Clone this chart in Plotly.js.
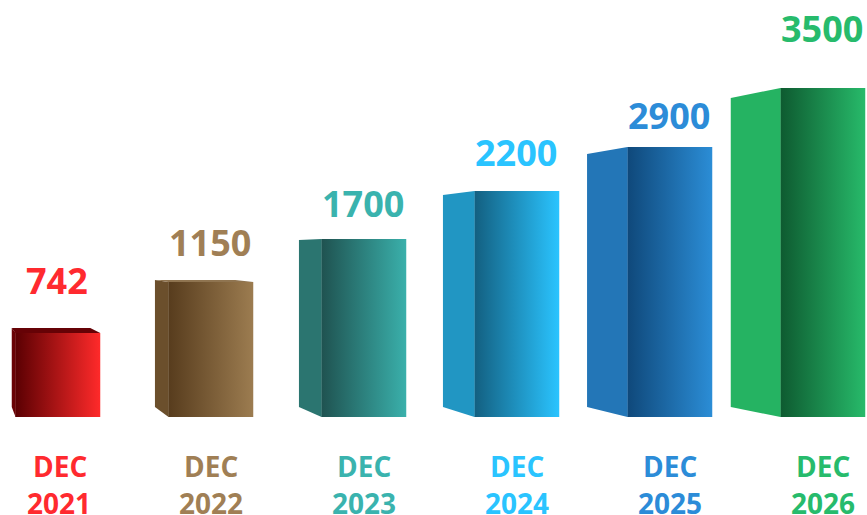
<!DOCTYPE html>
<html>
<head>
<meta charset="utf-8">
<script src="https://cdn.plot.ly/plotly-3.0.1.min.js"></script>
<style>html,body{margin:0;padding:0;background:#fff;overflow:hidden}</style>
</head>
<body>
<div id="chart" style="width:867px;height:515px"></div>
<script>
// ---- data ----
const months = ["DEC", "DEC", "DEC", "DEC", "DEC", "DEC"];
const years = ["2021", "2022", "2023", "2024", "2025", "2026"];
const labelValues = ["742", "1150", "1700", "2200", "2900", "3500"];
const drawnHeights = [84, 135, 178, 226, 270, 329];

// ---- styling ----
const darkShades = ["#5a0002", "#573c1d", "#1f5250", "#135f80", "#0f487a", "#0e5a30"];
const brightShades = ["#ff2a2a", "#9c7c50", "#3ab0ab", "#2ac4ff", "#2b8dd6", "#27ba6a"];
const sideColors = ["#6a0205", "#6b4f2c", "#2b7570", "#2196c3", "#2376b7", "#25b362"];
const topColors = ["#660206", "#8f7450", null, null, null, null];
const textColors = ["#ff2a2f", "#a07f55", "#3ab3ae", "#2ac4ff", "#2c8cd8", "#27bb6c"];
const sideDepth = [3.5, 13.3, 22.3, 31.3, 40.2, 49.5];
const backRise = [5, 2, -1, -4, -7, -10];
const topRightInset = [10, 18, 0, 0, 0, 0];
const labelLift = [53, 40, 36, 39, 32, 60];
const labelNudge = [-1, -1, -1, -1, -1, -1];

const pxPerIndex = 153, barPx = 85, floorRise = 10, originPx = 57.75, seamPx = 0.3;
const monthY = -49, yearY = -85.5;
const idx = years.map((_, i) => i);
const toIndex = px => px / pxPerIndex;

const traces = [{
  type: "bar",
  x: idx,
  y: drawnHeights,
  width: toIndex(barPx),
  marker: {color: brightShades, line: {width: 0}},
  hoverinfo: "skip"
}];

idx.forEach(i => {
  const left = i - toIndex(barPx) / 2;
  const seam = left + toIndex(seamPx);
  const back = left - toIndex(sideDepth[i]);
  const top = drawnHeights[i];
  traces.push({
    type: "scatter", mode: "lines", fill: "toself",
    fillcolor: sideColors[i], line: {width: 0},
    x: [seam, back, back, seam],
    y: [0, floorRise, top + backRise[i], top],
    hoverinfo: "skip"
  });
  if (topColors[i]) {
    const right = i + toIndex(barPx) / 2;
    traces.push({
      type: "scatter", mode: "lines", fill: "toself",
      fillcolor: topColors[i], line: {width: 0},
      x: [left, back, right - toIndex(topRightInset[i]), right],
      y: [top, top + backRise[i], top + backRise[i], top],
      hoverinfo: "skip"
    });
  }
});

const fontFamily = '"Open Sans", sans-serif';
const annotations = [];
idx.forEach(i => {
  annotations.push({
    x: i, xshift: labelNudge[i], y: drawnHeights[i] + labelLift[i],
    text: "<b>" + labelValues[i] + "</b>", showarrow: false, yanchor: "middle",
    font: {family: fontFamily, size: 36, color: textColors[i]}
  });
  annotations.push({
    x: i, xshift: i === 0 ? 2 : 0, y: monthY,
    text: "<b>" + months[i] + "</b>", showarrow: false, yanchor: "middle",
    font: {family: fontFamily, size: 28, color: textColors[i]}
  });
  annotations.push({
    x: i, xshift: i === 0 ? 1 : 0, y: yearY,
    text: "<b>" + years[i] + "</b>", showarrow: false, yanchor: "middle",
    font: {family: fontFamily, size: 28, color: textColors[i]}
  });
});

const layout = {
  width: 867, height: 515,
  margin: {l: 0, r: 0, t: 0, b: 0},
  paper_bgcolor: "#fff", plot_bgcolor: "#fff",
  showlegend: false,
  xaxis: {type: "linear", range: [toIndex(-originPx), toIndex(867 - originPx)], visible: false, fixedrange: true},
  yaxis: {range: [-98, 417], visible: false, fixedrange: true},
  annotations: annotations
};

function paintGradients() {
  const svg = document.querySelector("#chart svg.main-svg");
  const NS = "http://www.w3.org/2000/svg";
  let defs = svg.querySelector("defs#bar-grads");
  if (!defs) {
    defs = document.createElementNS(NS, "defs");
    defs.id = "bar-grads";
    idx.forEach(i => {
      const g = document.createElementNS(NS, "linearGradient");
      g.id = "barGrad" + i;
      [[0, darkShades[i]], [1, brightShades[i]]].forEach(([o, c]) => {
        const s = document.createElementNS(NS, "stop");
        s.setAttribute("offset", o);
        s.setAttribute("stop-color", c);
        g.appendChild(s);
      });
      defs.appendChild(g);
    });
    svg.insertBefore(defs, svg.firstChild);
  }
  document.querySelectorAll("#chart .bars .point path").forEach((p, i) => {
    p.style.fill = "url(#barGrad" + i + ")";
  });
}

const gd = document.getElementById("chart");
Plotly.newPlot(gd, traces, layout, {displayModeBar: false}).then(() => {
  paintGradients();
  gd.on("plotly_afterplot", paintGradients);
});
</script>
</body>
</html>
